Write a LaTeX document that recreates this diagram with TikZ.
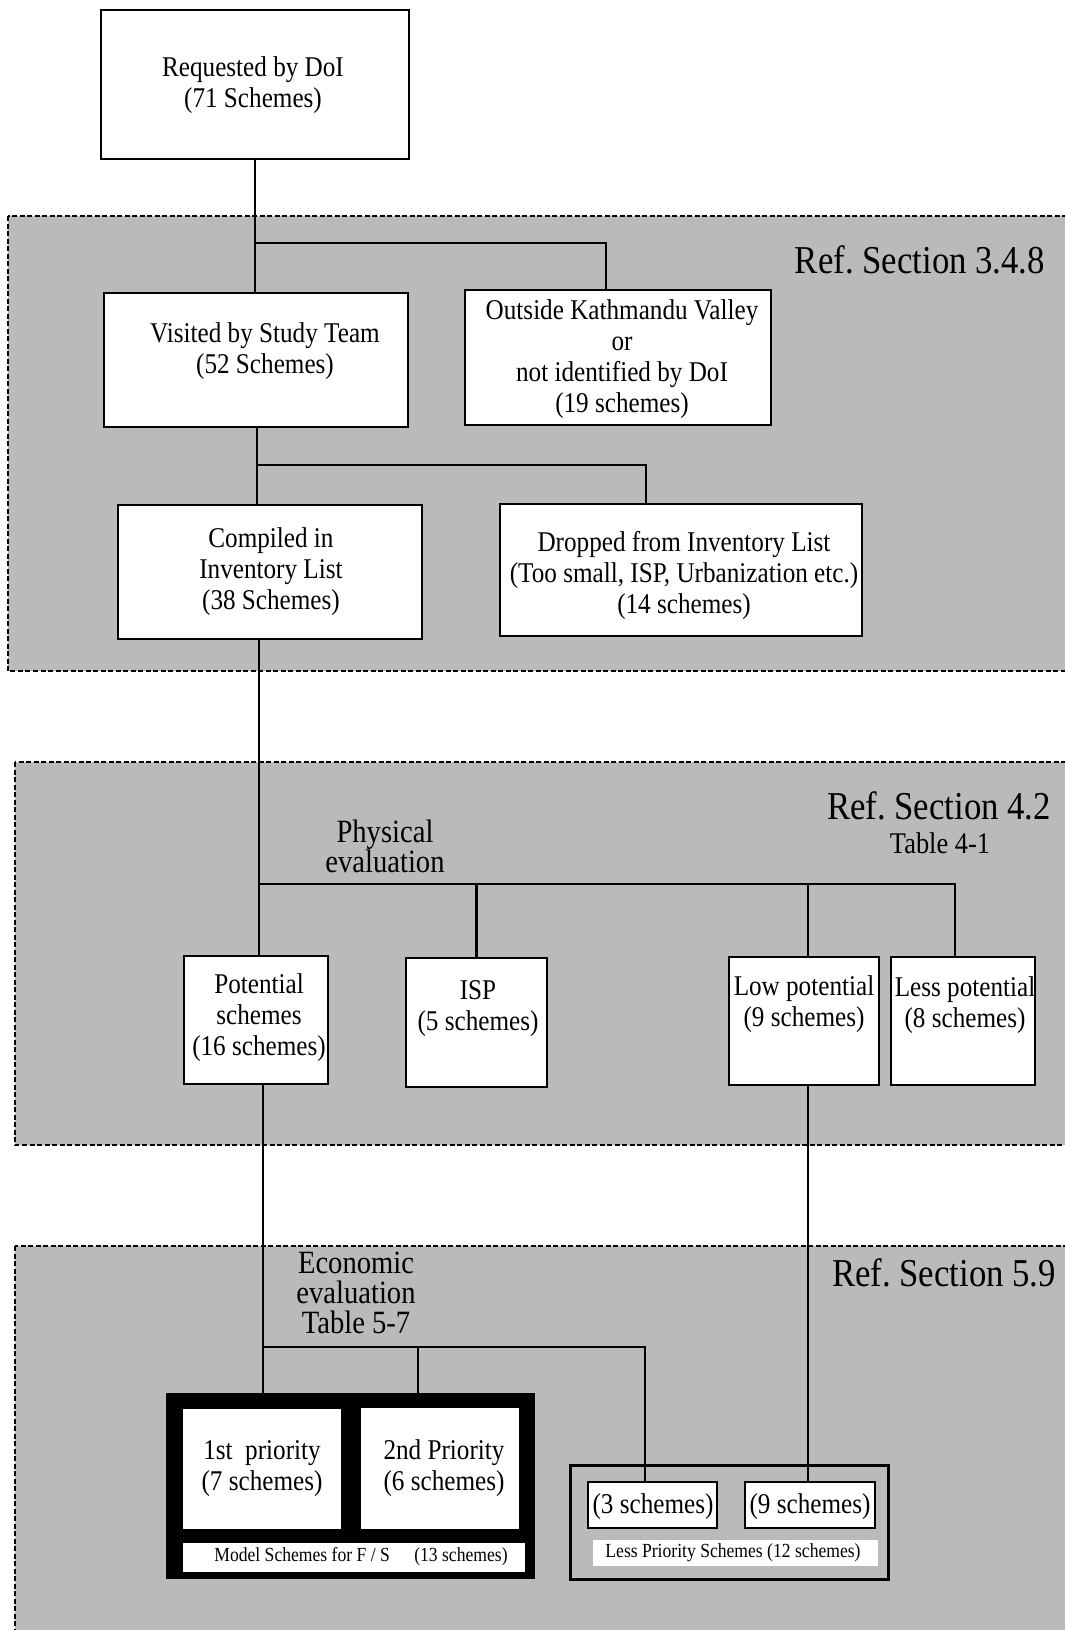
\documentclass[tikz,border=0pt]{standalone}
\usepackage{fontspec}
\setmainfont{Liberation Serif}[FakeStretch=0.88]
\definecolor{shade}{gray}{0.73}
\newcommand{\boxfont}{\fontsize{28.6}{31}\selectfont}
\newcommand{\reffont}{\fontsize{39.5}{34}\selectfont}
\newcommand{\evalfont}{\fontsize{32.5}{30}\selectfont}
\newcommand{\tabfont}{\fontsize{30}{30}\selectfont}
\newcommand{\stripfont}{\fontsize{20}{22}\selectfont}
\tikzset{
  region/.style={fill=shade, draw=black, line width=2pt, dash pattern=on 5pt off 2.5pt},
  stepbox/.style={draw=black, line width=2.8pt, fill=white, inner sep=0pt},
  plainbox/.style={fill=white, inner sep=0pt},
  lbl/.style={align=center, inner sep=0pt, font=\boxfont},
  conn/.style={line width=2.6pt},
}
\begin{document}
\begin{tikzpicture}[x=1pt, y=-1pt]
\useasboundingbox (0,0) rectangle (1065,1630);
\begin{scope}
\clip (0,0) rectangle (1065,1630);

% shaded stages
\draw[region] (8,216) rectangle (1080,671);
\draw[region] (15,762) rectangle (1080,1145);
\draw[region] (15,1246) rectangle (1080,1660);

% boxes
\node[stepbox, minimum width=308, minimum height=149] (req) at (255,84.5) {};
\node[stepbox, minimum width=304, minimum height=134] (visited) at (256,360) {};
\node[stepbox, minimum width=306, minimum height=135] (outside) at (618,357.5) {};
\node[stepbox, minimum width=304, minimum height=134] (compiled) at (270,572) {};
\node[stepbox, minimum width=362, minimum height=132] (dropped) at (681,570) {};
\node[stepbox, minimum width=144, minimum height=128] (potential) at (256,1020) {};
\node[stepbox, minimum width=141, minimum height=129] (isp) at (476.5,1022.5) {};
\node[stepbox, minimum width=150, minimum height=128] (low) at (804,1021) {};
\node[stepbox, minimum width=144, minimum height=128] (less) at (963,1021) {};

\node[fill=black, inner sep=0pt, minimum width=369, minimum height=186] (model) at (350.5,1486) {};
\node[plainbox, minimum width=158, minimum height=120] (first) at (262,1469) {};
\node[plainbox, minimum width=158, minimum height=121] (second) at (440,1468.5) {};
\node[plainbox, minimum width=342, minimum height=29] (modelstrip) at (354,1557.5) {};

\node[draw=black, line width=3pt, fill=shade, inner sep=0pt, minimum width=318, minimum height=114] (lessouter) at (729,1522) {};
\node[plainbox, minimum width=285, minimum height=26] (lessstrip) at (735.5,1553) {};

% connector junctions
\coordinate (j1) at (255,243);
\coordinate (j2) at (257,465);
\coordinate (j3) at (259,884);
\coordinate (j4) at (263,1347);

% connectors
\draw[conn] (req.south) -- (req.south |- visited.north);
\draw[conn] (j1) -| ([xshift=-12pt]outside.north);
\draw[conn] (visited.south -| j2) -- (j2 |- compiled.north);
\draw[conn] (j2) -| ([xshift=-35pt]dropped.north);
\draw[conn] (compiled.south -| j3) -- (j3 |- potential.north);
\draw[conn] (j3) -| ([xshift=-8pt]less.north);
\draw[conn] (j3 -| isp.north) -- (isp.north);
\draw[conn] (j3 -| low.north) ++(4,0) -- ([xshift=4pt]low.north);
\draw[conn] (potential.south -| j4) -- (j4 |- model.north);
\draw[conn] (j4) -| (645,1482);
\draw[conn] (j4 -| 418,0) -- (418,1393);
\draw[conn] ([xshift=4pt]low.south) -- (808,1482);

% inner white boxes of the lower group, drawn over the connectors
\node[stepbox, line width=2.6pt, minimum width=129, minimum height=46] (three) at (652.5,1505) {};
\node[stepbox, line width=2.6pt, minimum width=130, minimum height=46] (nine) at (810,1505) {};

% texts
\node[lbl] (req-t) at (253,85) {Requested by DoI\\(71 Schemes)};
\node[lbl] (visited-t) at (265,351) {Visited by Study Team\\(52 Schemes)};
\node[lbl] (outside-t) at (622,359) {Outside Kathmandu Valley\\or\\not identified by DoI\\(19 schemes)};
\node[lbl] (compiled-t) at (271,572) {Compiled in\\Inventory List\\(38 Schemes)};
\node[lbl] (dropped-t) at (684,575) {Dropped from Inventory List\\(Too small, ISP, Urbanization etc.)\\(14 schemes)};
\node[lbl] (potential-t) at (259,1018) {Potential\\schemes\\(16 schemes)};
\node[lbl] (isp-t) at (478,1009) {ISP\\(5 schemes)};
\node[lbl] (low-t) at (804,1004) {Low potential\\(9 schemes)};
\node[lbl] (less-t) at (965,1005) {Less potential\\(8 schemes)};
\node[lbl] (first-t) at (262,1469) {1st\ \ priority\\(7 schemes)};
\node[lbl] (second-t) at (444,1468) {2nd Priority\\(6 schemes)};
\node[lbl] (three-t) at (653,1507) {(3 schemes)};
\node[lbl] (nine-t) at (810,1507) {(9 schemes)};
\node[lbl, font=\stripfont] (modelstrip-t) at (361,1557) {Model Schemes for F / S\quad\ (13 schemes)};
\node[lbl, font=\stripfont] (lessstrip-t) at (733,1553) {Less Priority Schemes (12 schemes)};

\node[lbl, font=\reffont] (ref1) at (920,260) {Ref.\ Section 3.4.8};
\node[lbl, font=\reffont] (ref2) at (939,806) {Ref.\ Section 4.2};
\node[lbl, font=\tabfont] (tab41) at (940,843) {Table 4-1};
\node[lbl, font=\evalfont] (phys) at (385,846) {Physical\\evaluation};
\node[lbl, font=\evalfont] (econ) at (356,1293) {Economic\\evaluation\\Table 5-7};
\node[lbl, font=\reffont] (ref3) at (944,1273) {Ref.\ Section 5.9};
\end{scope}
\end{tikzpicture}
\end{document}
